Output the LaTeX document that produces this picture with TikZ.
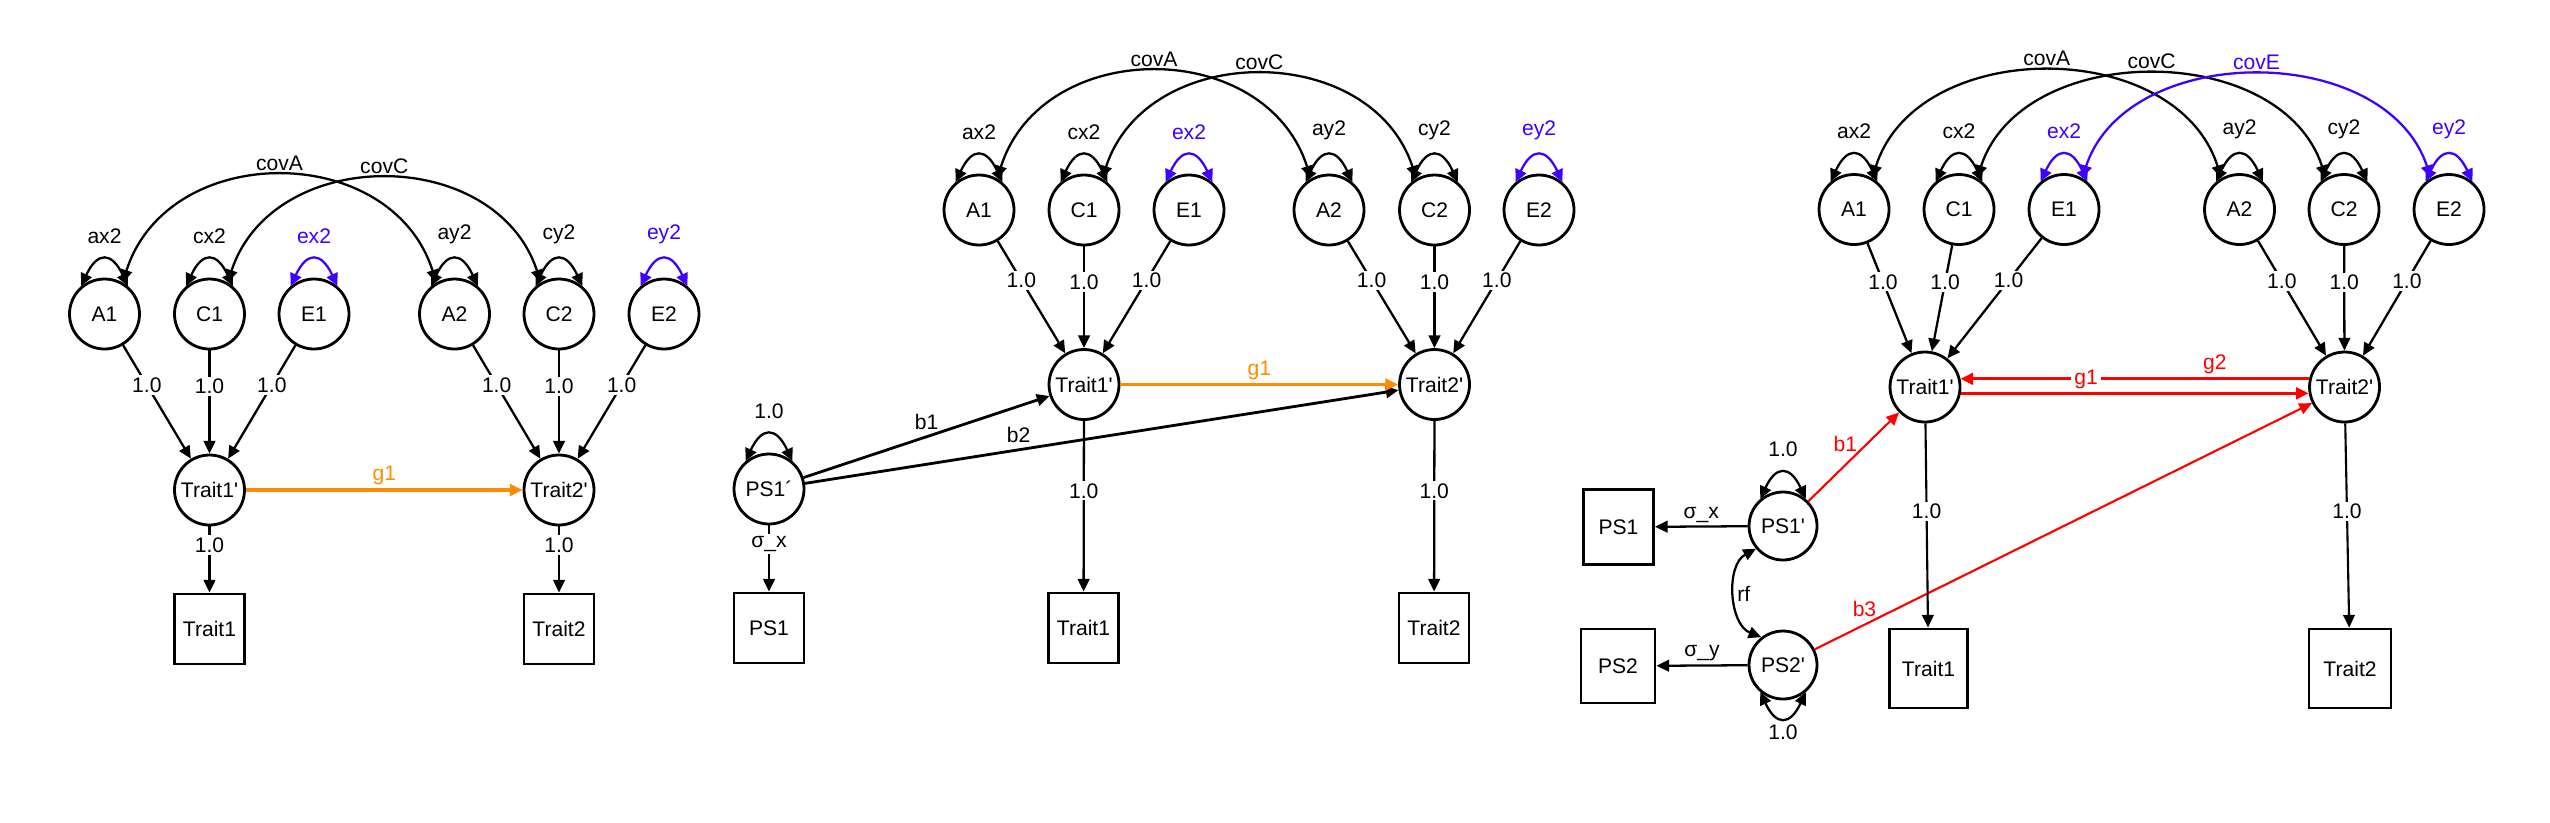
\documentclass[tikz,border=0pt]{standalone}
\usepackage{fontspec}
\newfontfamily\semfont{Liberation Sans}
\usetikzlibrary{arrows.meta}

\definecolor{evar}{RGB}{64,0,255}
\definecolor{gpath}{RGB}{255,140,0}

\begin{document}
\begin{tikzpicture}[
	font=\semfont\fontsize{6}{7}\selectfont,
	>={Triangle[length=3.6pt,width=3.3pt]},
	latent/.style={draw, circle, line width=0.8pt, minimum size=0.7cm, inner sep=0pt},
	manifest/.style={draw, rectangle, line width=0.8pt, minimum width=0.7cm, minimum height=0.7cm, inner sep=0pt},
	reg/.style={->, line width=0.65pt},
	cov/.style={<->, line width=0.65pt},
	varloop/.style={<->, line width=0.65pt, out=65, in=115, looseness=2.1},
	varloopdown/.style={<->, line width=0.65pt, out=-65, in=-115, looseness=2.1},
	wt/.style={fill=white, inner sep=0.6pt},
	ontop/.style={above, fill=white, inner sep=0.9pt},
	varlbl/.style={above, inner sep=4.4pt}
]
	\useasboundingbox (0,0) rectangle (25.5,-8.22);

	\node[latent] (L-A1) at (1.045,-3.14) {A1};
	\node[latent] (L-C1) at (2.095,-3.14) {C1};
	\node[latent] (L-E1) at (3.14,-3.14) {E1};
	\node[latent] (L-A2) at (4.545,-3.14) {A2};
	\node[latent] (L-C2) at (5.59,-3.14) {C2};
	\node[latent] (L-E2) at (6.64,-3.14) {E2};
	\node[latent] (L-Lat1) at (2.095,-4.9) {Trait1'};
	\node[latent] (L-Lat2) at (5.59,-4.9) {Trait2'};
	\node[manifest] (L-Obs1) at (2.095,-6.29) {Trait1};
	\node[manifest] (L-Obs2) at (5.59,-6.29) {Trait2};

	\draw[varloop] (L-A1.130) to node[varlbl] {ax2} (L-A1.50);
	\draw[varloop] (L-C1.130) to node[varlbl] {cx2} (L-C1.50);
	\draw[varloop, evar] (L-E1.130) to node[varlbl] {ex2} (L-E1.50);
	\draw[varloop] (L-A2.130) to node[varlbl] {ay2} (L-A2.50);
	\draw[varloop] (L-C2.130) to node[varlbl] {cy2} (L-C2.50);
	\draw[varloop, evar] (L-E2.130) to node[varlbl] {ey2} (L-E2.50);

	\draw[cov] (L-A1.60) .. controls +(0.45,1.42) and +(-0.45,1.42) .. (L-A2.120) node[midway, above, inner sep=1.2pt] {covA};
	\draw[cov] (L-C1.60) .. controls +(0.45,1.38) and +(-0.45,1.38) .. (L-C2.120) node[midway, above, inner sep=1.2pt] {covC};

	\draw[reg] (L-A1) -- node[wt, pos=0.35] {1.0} (L-Lat1);
	\draw[reg] (L-C1) -- node[wt, pos=0.35] {1.0} (L-Lat1);
	\draw[reg] (L-E1) -- node[wt, pos=0.35] {1.0} (L-Lat1);
	\draw[reg] (L-A2) -- node[wt, pos=0.35] {1.0} (L-Lat2);
	\draw[reg] (L-C2) -- node[wt, pos=0.35] {1.0} (L-Lat2);
	\draw[reg] (L-E2) -- node[wt, pos=0.35] {1.0} (L-Lat2);

	\draw[reg, gpath, line width=0.9pt] (L-Lat1) -- node[ontop] {g1} (L-Lat2);

	\draw[reg] (L-Lat1) -- node[wt, pos=0.28] {1.0} (L-Obs1);
	\draw[reg] (L-Lat2) -- node[wt, pos=0.28] {1.0} (L-Obs2);

	\node[latent] (M-A1) at (9.79,-2.1) {A1};
	\node[latent] (M-C1) at (10.84,-2.1) {C1};
	\node[latent] (M-E1) at (11.89,-2.1) {E1};
	\node[latent] (M-A2) at (13.29,-2.1) {A2};
	\node[latent] (M-C2) at (14.345,-2.1) {C2};
	\node[latent] (M-E2) at (15.39,-2.1) {E2};
	\node[latent] (M-Lat1) at (10.84,-3.845) {Trait1'};
	\node[latent] (M-Lat2) at (14.345,-3.845) {Trait2'};
	\node[latent] (M-PSlat) at (7.69,-4.89) {PS1´};
	\node[manifest] (M-PSobs) at (7.69,-6.28) {PS1};
	\node[manifest] (M-Obs1) at (10.835,-6.28) {Trait1};
	\node[manifest] (M-Obs2) at (14.34,-6.28) {Trait2};

	\draw[varloop] (M-A1.130) to node[varlbl] {ax2} (M-A1.50);
	\draw[varloop] (M-C1.130) to node[varlbl] {cx2} (M-C1.50);
	\draw[varloop, evar] (M-E1.130) to node[varlbl] {ex2} (M-E1.50);
	\draw[varloop] (M-A2.130) to node[varlbl] {ay2} (M-A2.50);
	\draw[varloop] (M-C2.130) to node[varlbl] {cy2} (M-C2.50);
	\draw[varloop, evar] (M-E2.130) to node[varlbl] {ey2} (M-E2.50);
	\draw[varloop] (M-PSlat.130) to node[varlbl] {1.0} (M-PSlat.50);

	\draw[cov] (M-A1.60) .. controls +(0.45,1.42) and +(-0.45,1.42) .. (M-A2.120) node[midway, above, inner sep=1.2pt] {covA};
	\draw[cov] (M-C1.60) .. controls +(0.45,1.38) and +(-0.45,1.38) .. (M-C2.120) node[midway, above, inner sep=1.2pt] {covC};

	\draw[reg] (M-A1) -- node[wt, pos=0.35] {1.0} (M-Lat1);
	\draw[reg] (M-C1) -- node[wt, pos=0.35] {1.0} (M-Lat1);
	\draw[reg] (M-E1) -- node[wt, pos=0.35] {1.0} (M-Lat1);
	\draw[reg] (M-A2) -- node[wt, pos=0.35] {1.0} (M-Lat2);
	\draw[reg] (M-C2) -- node[wt, pos=0.35] {1.0} (M-Lat2);
	\draw[reg] (M-E2) -- node[wt, pos=0.35] {1.0} (M-Lat2);

	\draw[reg, line width=0.8pt] (M-PSlat) -- node[above, inner sep=1.5pt] {b1} (M-Lat1);
	\draw[reg, line width=0.8pt] (M-PSlat) -- node[pos=0.36, above, inner sep=1.5pt] {b2} (M-Lat2);

	\draw[reg, gpath, line width=0.9pt] (M-Lat1) -- node[ontop] {g1} (M-Lat2);

	\draw[reg] (M-PSlat) -- node[wt, pos=0.28] {σ\_x} (M-PSobs);
	\draw[reg] (M-Lat1) -- node[wt, pos=0.41] {1.0} (M-Obs1);
	\draw[reg] (M-Lat2) -- node[wt, pos=0.41] {1.0} (M-Obs2);

	\node[latent] (R-A1) at (18.54,-2.095) {A1};
	\node[latent] (R-C1) at (19.59,-2.095) {C1};
	\node[latent] (R-E1) at (20.64,-2.095) {E1};
	\node[latent] (R-A2) at (22.395,-2.095) {A2};
	\node[latent] (R-C2) at (23.44,-2.095) {C2};
	\node[latent] (R-E2) at (24.49,-2.095) {E2};
	\node[latent] (R-Lat1) at (19.25,-3.87) {Trait1'};
	\node[latent] (R-Lat2) at (23.445,-3.87) {Trait2'};
	\node[latent, minimum size=0.68cm] (R-PS1lat) at (17.83,-5.26) {PS1'};
	\node[latent, minimum size=0.68cm] (R-PS2lat) at (17.83,-6.65) {PS2'};
	\node[manifest, minimum height=0.75cm] (R-PS1obs) at (16.185,-5.27) {PS1};
	\node[manifest, minimum width=0.74cm, minimum height=0.74cm] (R-PS2obs) at (16.18,-6.66) {PS2};
	\node[manifest, minimum width=0.78cm, minimum height=0.79cm] (R-Obs1) at (19.285,-6.685) {Trait1};
	\node[manifest, minimum width=0.82cm, minimum height=0.79cm] (R-Obs2) at (23.5,-6.685) {Trait2};

	\draw[varloop] (R-A1.130) to node[varlbl] {ax2} (R-A1.50);
	\draw[varloop] (R-C1.130) to node[varlbl] {cx2} (R-C1.50);
	\draw[varloop, evar] (R-E1.130) to node[varlbl] {ex2} (R-E1.50);
	\draw[varloop] (R-A2.130) to node[varlbl] {ay2} (R-A2.50);
	\draw[varloop] (R-C2.130) to node[varlbl] {cy2} (R-C2.50);
	\draw[varloop, evar] (R-E2.130) to node[varlbl] {ey2} (R-E2.50);
	\draw[varloop] (R-PS1lat.130) to node[varlbl] {1.0} (R-PS1lat.50);
	\draw[varloopdown] (R-PS2lat.230) to node[below, inner sep=1.8pt] {1.0} (R-PS2lat.310);

	\draw[cov] (R-A1.60) .. controls +(0.45,1.42) and +(-0.45,1.42) .. (R-A2.120) node[midway, above, inner sep=1.2pt] {covA};
	\draw[cov] (R-C1.60) .. controls +(0.45,1.38) and +(-0.45,1.38) .. (R-C2.120) node[midway, above, inner sep=1.2pt] {covC};
	\draw[cov, evar] (R-E1.60) .. controls +(0.45,1.37) and +(-0.45,1.37) .. (R-E2.120) node[midway, above, inner sep=1.2pt] {covE};

	\draw[reg] (R-A1) -- node[wt, pos=0.35] {1.0} (R-Lat1);
	\draw[reg] (R-C1) -- node[wt, pos=0.35] {1.0} (R-Lat1);
	\draw[reg] (R-E1) -- node[wt, pos=0.35] {1.0} (R-Lat1);
	\draw[reg] (R-A2) -- node[wt, pos=0.35] {1.0} (R-Lat2);
	\draw[reg] (R-C2) -- node[wt, pos=0.35] {1.0} (R-Lat2);
	\draw[reg] (R-E2) -- node[wt, pos=0.35] {1.0} (R-Lat2);

	\draw[reg, red, line width=0.9pt] (R-Lat2.167) -- node[ontop, pos=0.27] {g2} (R-Lat1.13);
	\draw[reg, red, line width=0.9pt] (R-Lat1.-10) -- node[ontop, pos=0.36] {g1} (R-Lat2.190);

	\draw[reg, red, line width=0.6pt] (R-PS1lat) -- node[pos=0.55, above left, inner sep=0pt] {b1} (R-Lat1);
	\draw[reg, red, line width=0.6pt] (R-PS2lat) -- node[pos=0.1, above, inner sep=2pt] {b3} (R-Lat2);

	\draw[reg] (R-PS1lat) -- node[ontop] {σ\_x} (R-PS1obs);
	\draw[reg] (R-PS2lat) -- node[ontop] {σ\_y} (R-PS2obs);
	\draw[cov] (R-PS1lat.220) to[bend right=65] node[right, fill=white, inner sep=0.3pt] {rf} (R-PS2lat.128);

	\draw[reg, line width=0.6pt] (R-Lat1) -- node[wt, pos=0.43] {1.0} (R-Obs1);
	\draw[reg, line width=0.6pt] (R-Lat2) -- node[wt, pos=0.43] {1.0} (R-Obs2);
\end{tikzpicture}
\end{document}
